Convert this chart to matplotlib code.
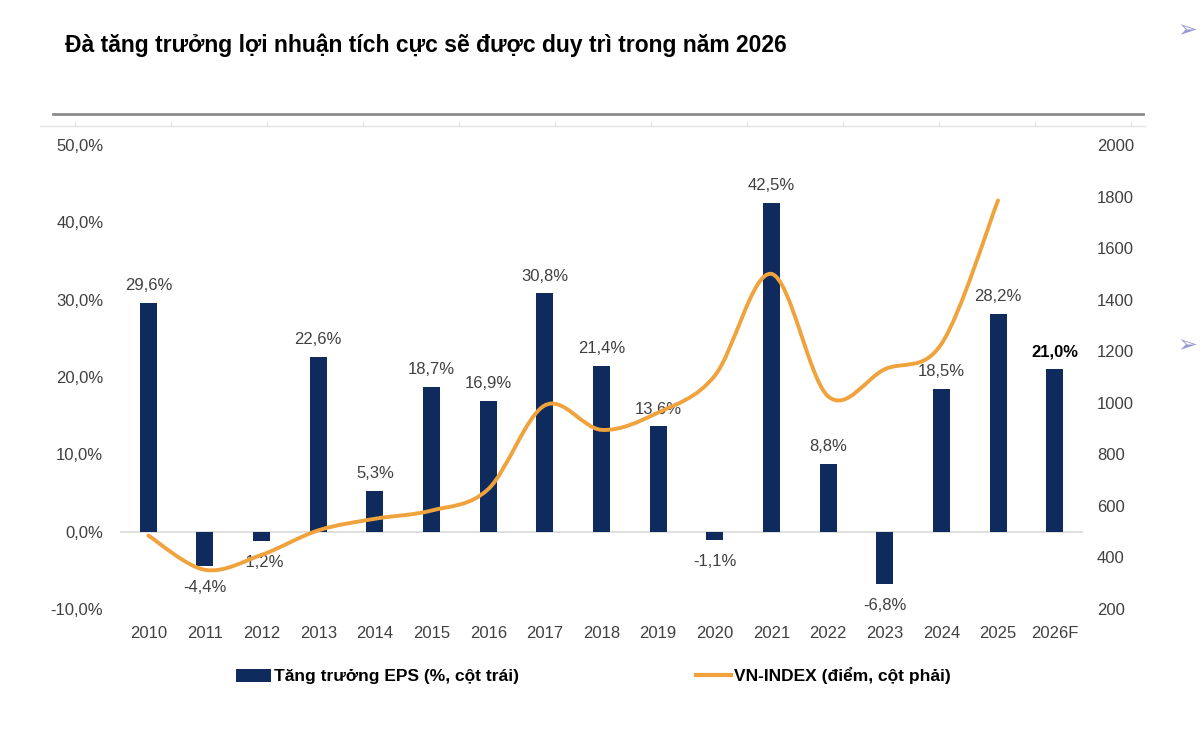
import matplotlib.pyplot as plt
from matplotlib.path import Path
from matplotlib.patches import PathPatch
from matplotlib.lines import Line2D
from matplotlib.patches import Patch

plt.rcParams['font.family'] = ['Liberation Sans', 'DejaVu Sans']

years = ['2010', '2011', '2012', '2013', '2014', '2015', '2016', '2017', '2018',
         '2019', '2020', '2021', '2022', '2023', '2024', '2025', '2026F']
eps_growth = [29.6, -4.4, -1.2, 22.6, 5.3, 18.7, 16.9, 30.8, 21.4,
              13.6, -1.1, 42.5, 8.8, -6.8, 18.5, 28.2, 21.0]
vnindex = [485, 352, 410, 505, 550, 582, 665, 990, 895,
           962, 1105, 1500, 1025, 1130, 1228, 1785]

title = 'Đà tăng trưởng lợi nhuận tích cực sẽ được duy trì trong năm 2026'
navy = '#0f2a5c'
orange = '#f0a23c'
txt = '#404040'

fig = plt.figure(figsize=(12, 7.46), dpi=100)
ax = fig.add_axes([0.1, 1 - 609 / 746, 0.8025, (609 - 145) / 746])
ax2 = ax.twinx()

x = list(range(len(years)))
ax.bar(x, eps_growth, width=0.3, color=navy, zorder=2)
ax.axhline(0, color='#d9d9d9', lw=1.2, zorder=1)
ax.set_xlim(-0.5, len(years) - 0.5)
ax.set_ylim(-10, 50)
ax.set_yticks(range(-10, 51, 10))
ax.set_yticklabels([f'{v:.1f}%'.replace('.', ',') for v in range(-10, 51, 10)])
ax.set_xticks(x)
ax.set_xticklabels(years)

for i, v in enumerate(eps_growth):
    lab = f'{v:.1f}%'.replace('.', ',')
    bold = years[i] == '2026F'
    if v >= 0:
        ax.annotate(lab, (i, v), xytext=(0, 7), textcoords='offset points',
                    ha='center', va='bottom', fontsize=12,
                    color='black' if bold else txt,
                    fontweight='bold' if bold else 'normal', zorder=5)
    else:
        ax.annotate(lab, (i, v), xytext=(0, -10), textcoords='offset points',
                    ha='center', va='top', fontsize=12, color=txt, zorder=5)

# smoothed line (Excel-style bezier through the points)
xs = x[:len(vnindex)]
pts = list(zip(xs, vnindex))
verts = [pts[0]]
codes = [Path.MOVETO]
for k in range(len(pts) - 1):
    p0 = pts[k - 1] if k > 0 else pts[k]
    p1 = pts[k]
    p2 = pts[k + 1]
    p3 = pts[k + 2] if k + 2 < len(pts) else pts[k + 1]
    c1 = (p1[0] + (p2[0] - p0[0]) / 6, p1[1] + (p2[1] - p0[1]) / 6)
    c2 = (p2[0] - (p3[0] - p1[0]) / 6, p2[1] - (p3[1] - p1[1]) / 6)
    verts += [c1, c2, p2]
    codes += [Path.CURVE4] * 3
ax2.add_patch(PathPatch(Path(verts, codes), facecolor='none', edgecolor=orange,
                        lw=2.8, capstyle='round', zorder=3))
ax2.set_ylim(200, 2000)
ax2.set_yticks(range(200, 2001, 200))

for a in (ax, ax2):
    for s in a.spines.values():
        s.set_visible(False)
    a.tick_params(length=0, labelsize=12, labelcolor=txt)
ax.tick_params(axis='y', pad=12)
ax.tick_params(axis='x', pad=12)
ax2.tick_params(axis='y', pad=10)

fig.text(65 / 1200, 1 - 45 / 746, title, fontsize=16.5, fontweight='bold',
         color='black', va='center')

# frame lines at top
fig.add_artist(Line2D([53 / 1200, 1143 / 1200], [1 - 114 / 746] * 2, color='#8c8c8c', lw=2))
fig.add_artist(Line2D([40 / 1200, 1145 / 1200], [1 - 126 / 746] * 2, color='#e3e3e3', lw=1))
for k in range(12):
    xt = (75 + 96 * k) / 1200
    fig.add_artist(Line2D([xt, xt], [1 - 126 / 746, 1 - 122 / 746], color='#e3e3e3', lw=1))

for yy in (30, 345):
    fig.text(1187 / 1200, 1 - yy / 746, '➢', fontsize=17, color='#9a9ad0',
             ha='center', va='center', family=['DejaVu Sans'])

handles = [Patch(facecolor=navy, edgecolor='none'),
           Line2D([0], [0], color=orange, lw=3)]
fig.legend(handles, ['Tăng trưởng EPS (%, cột trái)', 'VN-INDEX (điểm, cột phải)'],
           loc='center', bbox_to_anchor=(0.4946, 1 - 676 / 746), ncol=2,
           frameon=False, columnspacing=10.2, handlelength=2.0, handletextpad=0.2,
           prop={'weight': 'bold', 'size': 12.5})

fig.savefig('out.png', dpi=100, facecolor='white')
